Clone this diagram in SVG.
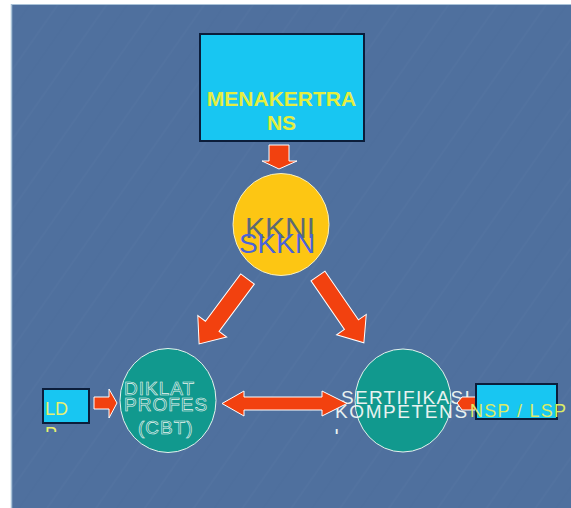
<svg xmlns="http://www.w3.org/2000/svg" width="571" height="508" viewBox="0 0 571 508">
<defs>
<style>
.box{fill:#18C6F2;stroke:#0B1D3A;stroke-width:2}
.arr{fill:#F2410F;stroke:#FFFFFF;stroke-width:1;stroke-linejoin:miter}
.t{font-family:"Liberation Sans",Arial,sans-serif}
.yel{fill:#E4EE40}
.teal{fill:#11998E;stroke:#E6F2EE;stroke-width:1}
.hollow{fill:none;stroke:#EAF4F0;stroke-width:0.6}
.wt{fill:#E8F2F0}
</style>
<pattern id="tex" width="40" height="40" patternUnits="userSpaceOnUse" patternTransform="rotate(-55)">
<rect width="40" height="40" fill="#4F709E"/>
<line x1="0" y1="10" x2="40" y2="10" stroke="#6685B0" stroke-width="1" opacity="0.18"/>
<line x1="0" y1="27" x2="40" y2="27" stroke="#3F5F8C" stroke-width="1" opacity="0.18"/>
</pattern>
<clipPath id="clipP"><rect x="40" y="424" width="20" height="8"/></clipPath>
<clipPath id="clipI"><rect x="330" y="426" width="12" height="8"/></clipPath>
</defs>
<rect x="0" y="0" width="571" height="508" fill="#FFFFFF"/>
<rect x="11" y="4" width="560" height="504" fill="url(#tex)"/>
<line x1="11.5" y1="4" x2="11.5" y2="508" stroke="#A9C2D8" stroke-width="1.5"/>
<line x1="11" y1="4.5" x2="571" y2="4.5" stroke="#A9C2D8" stroke-width="1"/>

<g id="menakertrans">
<rect class="box" x="200" y="34" width="164" height="107"/>
<text class="t yel" x="281.5" y="106" font-size="21" font-weight="bold" text-anchor="middle">MENAKERTRA</text>
<text class="t yel" x="281.5" y="130" font-size="21" font-weight="bold" text-anchor="middle">NS</text>
</g>

<g id="kkni">
<ellipse cx="281" cy="224.5" rx="48" ry="51" fill="#FDC613" stroke="#F8F0C0" stroke-width="1"/>
<text class="t" x="280" y="238" font-size="30" text-anchor="middle" fill="#5C6A74">KKNI</text>
<text class="t" x="277" y="253" font-size="28" text-anchor="middle" fill="#4A63DA">SKKN</text>
</g>

<g id="diklat">
<ellipse class="teal" cx="168" cy="400.5" rx="48" ry="52"/>
<text class="t hollow" x="124" y="395" font-size="19" letter-spacing="1">DIKLAT</text>
<text class="t hollow" x="124" y="411" font-size="19" letter-spacing="1">PROFES</text>
<text class="t hollow" x="138" y="434" font-size="19" letter-spacing="1">(CBT)</text>
</g>

<g id="sertifikasi">
<ellipse class="teal" cx="403" cy="400.5" rx="48" ry="51.5"/>
<text class="t wt" x="341" y="404" font-size="19" letter-spacing="1.3">SERTIFIKASI</text>
<text class="t wt" x="335" y="418" font-size="19" letter-spacing="1.6">KOMPETENS</text>
<text class="t wt" x="334" y="442" font-size="19" clip-path="url(#clipI)">I</text>
</g>

<g id="connectors">
<polygon class="arr" points="269,145 289,145 289,161 297,161 279,169 262,161 269,161"/>
<polygon class="arr" transform="translate(247.5,279) rotate(126.7)" points="0,-8.5 59,-8.5 59,-18 81,0 59,18 59,8.5 0,8.5"/>
<polygon class="arr" transform="translate(318,276) rotate(55.5)" points="0,-8.5 59,-8.5 59,-18 81,0 59,18 59,8.5 0,8.5"/>
<polygon class="arr" points="222,403.5 244,391 244,397 322,397 322,391 347,403.5 322,416 322,410 244,410 244,416"/>
<polygon class="arr" points="94,397 109,397 109,389 117,403 109,418 109,409 94,409"/>
<polygon class="arr" points="476,397 462,397 457,403 462,410 476,410"/>
</g>

<g id="ld">
<rect class="box" x="43" y="389" width="46" height="34"/>
<text class="t" x="45" y="415" font-size="18" fill="#E8F070">LD</text>
<text class="t" x="45" y="440" font-size="18" fill="#E8F070" clip-path="url(#clipP)">P</text>
</g>

<g id="nsp">
<rect class="box" x="476" y="384" width="81" height="35"/>
<text class="t" x="470" y="417" font-size="18" letter-spacing="1.3" fill="#DCEA66">NSP / LSP</text>
</g>
</svg>
